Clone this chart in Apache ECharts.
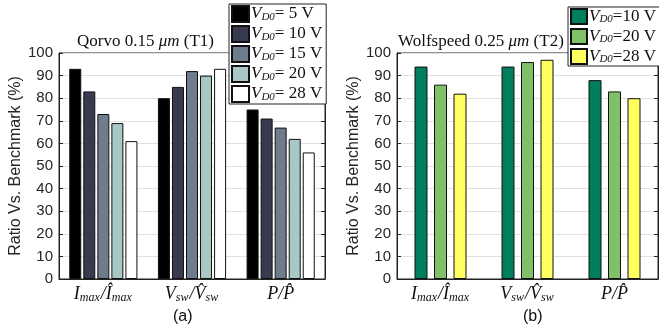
<!DOCTYPE html>
<html><head><meta charset="utf-8">
<script src="https://cdn.jsdelivr.net/npm/echarts@6/dist/echarts.min.js"></script>
<style>html,body{margin:0;padding:0;background:#fff}#c{width:659px;height:331px}</style>
</head><body><div id="c"></div>
<script>
const categories = ['Imax', 'Vsw', 'P'];
const leftNames = ['VD0= 5 V', 'VD0= 10 V', 'VD0= 15 V', 'VD0= 20 V', 'VD0= 28 V'];
const leftValues = [
  [93, 80, 75],
  [83, 85, 71],
  [73, 92, 67],
  [69, 90, 62],
  [61, 93, 56]
];
const leftColors = ['#000000', '#383a50', '#6e7c8e', '#a8c8c6', '#ffffff'];
const rightNames = ['VD0=10 V', 'VD0=20 V', 'VD0=28 V'];
const rightValues = [
  [94, 94, 88],
  [86, 96, 83],
  [82, 97, 80]
];
const rightColors = ['#007f5f', '#80c068', '#ffff60'];
const yTicks = [0, 10, 20, 30, 40, 50, 60, 70, 80, 90, 100];

const chart = echarts.init(document.getElementById('c'));
const serif = 'Liberation Serif';
const sans = 'Liberation Sans';

const catLabel = {
  Imax: '{i|I}{s|max}{n|/}{i|Î}{s|max}',
  Vsw: '{i|V}{s|sw}{n|/}{i|V̂}{s|sw}',
  P: '{i|P}{n|/}{i|P̂}'
};
const rich = {
  i: {fontFamily: serif, fontStyle: 'italic', fontSize: 18, color: '#111', lineHeight: 20},
  n: {fontFamily: serif, fontStyle: 'italic', fontSize: 18, color: '#111', lineHeight: 20},
  s: {fontFamily: serif, fontStyle: 'italic', fontSize: 12, color: '#111', verticalAlign: 'bottom', lineHeight: 12, padding: [8, 1, 0, 0]}
};
const legRich = {
  v: {fontFamily: serif, fontStyle: 'italic', fontSize: 17, color: '#111', lineHeight: 17},
  s: {fontFamily: serif, fontStyle: 'italic', fontSize: 11, color: '#111', verticalAlign: 'bottom', lineHeight: 11, padding: [6, 0, 0, 0]},
  t: {fontFamily: serif, fontSize: 17, color: '#111', lineHeight: 17}
};
function legFmt(name) {
  return '{v|V}{s|D0}{t|' + name.slice(3) + '}';
}

function xAxis(gi) {
  return {
    type: 'category', gridIndex: gi, data: categories,
    axisLine: {show: true, lineStyle: {color: '#222', width: 1}},
    axisTick: {show: false},
    axisLabel: {interval: 0, margin: 5, formatter: v => catLabel[v], rich: rich}
  };
}
function yAxes(gi) {
  return [{
    type: 'value', gridIndex: gi, min: 0, max: 100, interval: 10,
    name: 'Ratio Vs. Benchmark (%)', nameLocation: 'middle', nameGap: 33,
    nameTextStyle: {fontFamily: sans, fontSize: 16, color: '#262626'},
    axisLine: {show: true, lineStyle: {color: '#222', width: 1}},
    axisTick: {show: true, inside: true, length: 4, lineStyle: {color: '#222'}},
    axisLabel: {fontFamily: sans, fontSize: 15, color: '#262626', margin: 6},
    splitLine: {show: true, lineStyle: {color: '#e0e0e0', width: 1}}
  }, {
    type: 'value', gridIndex: gi, min: 0, max: 100, interval: 10, position: 'right',
    axisLine: {show: true, lineStyle: {color: '#222', width: 1}},
    axisTick: {show: true, inside: true, length: 4, lineStyle: {color: '#222'}},
    axisLabel: {show: false}, splitLine: {show: false}
  }];
}

const series = [];
leftNames.forEach((n, k) => series.push({
  type: 'bar', name: n, xAxisIndex: 0, yAxisIndex: 0, data: leftValues[k],
  barWidth: 12, barGap: '17%',
  itemStyle: {color: leftColors[k], borderColor: '#111', borderWidth: 1}
}));
rightNames.forEach((n, k) => series.push({
  type: 'bar', name: n, xAxisIndex: 1, yAxisIndex: 2, data: rightValues[k],
  barWidth: 13, barGap: '50%',
  itemStyle: {color: rightColors[k], borderColor: '#111', borderWidth: 1}
}));

chart.setOption({
  animation: false,
  backgroundColor: '#fff',
  grid: [
    {left: 59, right: 334, top: 53, bottom: 52, show: true, borderColor: '#222', borderWidth: 1},
    {left: 397, right: 1, top: 53, bottom: 52, show: true, borderColor: '#222', borderWidth: 1}
  ],
  xAxis: [xAxis(0), xAxis(1)],
  yAxis: yAxes(0).concat(yAxes(1)),
  legend: [{
    data: leftNames, orient: 'vertical', left: 229, top: 4, icon: 'rect',
    itemWidth: 17, itemHeight: 16, itemGap: 2, padding: [1, 4, 1, 2],
    backgroundColor: '#fff', borderColor: '#222', borderWidth: 1,
    formatter: legFmt, textStyle: {rich: legRich, padding: [0, 0, 0, -3]}
  }, {
    data: rightNames, orient: 'vertical', left: 568, top: 7, icon: 'rect',
    itemWidth: 16, itemHeight: 15, itemGap: 3, padding: [1, 6, 1, 2],
    backgroundColor: '#fff', borderColor: '#222', borderWidth: 1,
    formatter: legFmt, textStyle: {rich: legRich, padding: [0, 0, 0, -3]}
  }],
  graphic: [
    {type: 'text', left: 77, top: 33, style: {text: 'Qorvo 0.15 {m|μm} (T1)', font: '17px "Liberation Serif"', fill: '#111', rich: {m: {fontFamily: serif, fontStyle: 'italic', fontSize: 17, fill: '#111'}}}},
    {type: 'text', left: 398, top: 33, style: {text: 'Wolfspeed 0.25 {m|μm} (T2)', font: '17px "Liberation Serif"', fill: '#111', rich: {m: {fontFamily: serif, fontStyle: 'italic', fontSize: 17, fill: '#111'}}}},
    {type: 'text', left: 173, top: 309, style: {text: '(a)', font: '16px "Liberation Sans"', fill: '#111'}},
    {type: 'text', left: 523, top: 309, style: {text: '(b)', font: '16px "Liberation Sans"', fill: '#111'}}
  ],
  series: series
});
</script></body></html>
